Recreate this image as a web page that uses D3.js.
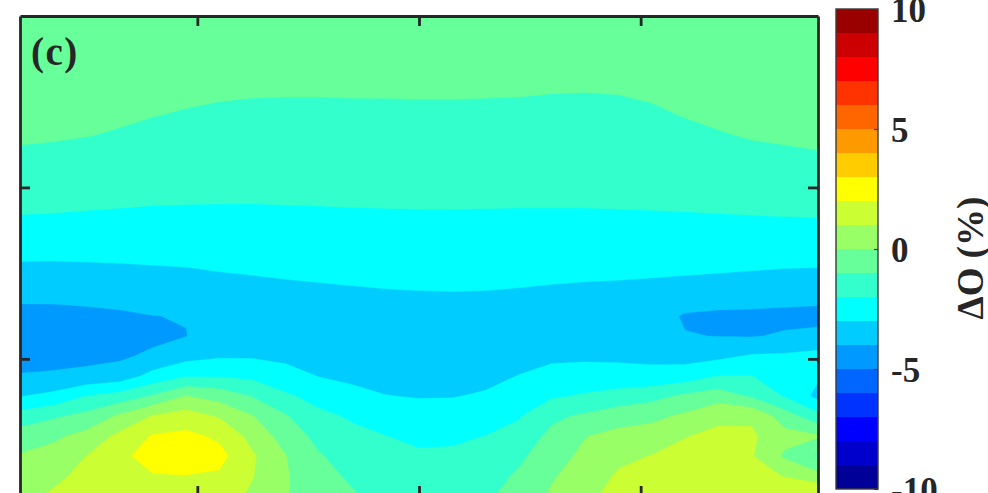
<!DOCTYPE html>
<html><head><meta charset="utf-8">
<script src="https://cdn.jsdelivr.net/npm/d3@7"></script>
<style>html,body{margin:0;padding:0;background:#fff;} svg{display:block;}</style>
</head><body>
<svg id="chart" width="988" height="493"></svg>
<script>
// ---- data ----
const lons = d3.range(-180, 181, 15);                 // 25 grid columns (deg)
const altTop = 400, altBottom = 120;                  // km
const alts = d3.range(0, 25).map(j => altTop - j * (altTop - altBottom) / 24); // 25 rows, top -> bottom
const levels = d3.range(-10, 11, 1);
const jetColors = ["#000099","#0000CC","#0000FF","#0033FF","#0066FF","#0099FF","#00CCFF","#00FFFF","#33FFCC","#66FF99",
                   "#99FF66","#CCFF33","#FFFF00","#FFCC00","#FF9900","#FF6600","#FF3300","#FF0000","#CC0000","#990000"];
const xTicks = [-100, 0, 100];
const yTicks = [200, 300];
const cbTicks = [-10, -5, 0, 5, 10];
const panelLabel = "(c)";
const cbLabel = "ΔO (%)";

// ΔO (%) by longitude column, each listed from 400 km (top) down to 120 km (bottom)
const dO = [
 [-0.35,-0.45,-0.55,-0.65,-0.75,-0.85,-0.95,-1.06,-1.42,-1.71,-2.02,-2.43,-2.87,-3.35,-3.85,-4.23,-4.57,-4.31,-3.95,-3.05,-1.57,-0.54,0.09,0.40,0.70],
 [-0.35,-0.45,-0.55,-0.66,-0.76,-0.86,-0.96,-1.10,-1.46,-1.75,-2.04,-2.46,-2.88,-3.35,-3.85,-4.22,-4.53,-4.26,-3.90,-2.73,-1.14,-0.18,0.33,0.75,1.15],
 [-0.35,-0.46,-0.56,-0.67,-0.78,-0.89,-0.99,-1.25,-1.52,-1.79,-2.08,-2.47,-2.86,-3.32,-3.80,-4.18,-4.48,-4.21,-3.80,-1.98,-0.71,0.30,1.01,1.31,1.60],
 [-0.35,-0.47,-0.58,-0.70,-0.81,-0.93,-1.05,-1.34,-1.59,-1.83,-2.11,-2.48,-2.85,-3.27,-3.73,-4.12,-4.43,-4.16,-3.55,-1.60,0.15,1.25,1.81,1.82,1.60],
 [-0.35,-0.48,-0.60,-0.73,-0.86,-0.99,-1.20,-1.42,-1.64,-1.87,-2.14,-2.48,-2.83,-3.20,-3.60,-4.01,-4.27,-3.80,-2.67,-0.90,1.06,2.08,2.34,1.95,1.50],
 [-0.35,-0.49,-0.63,-0.76,-0.90,-1.06,-1.27,-1.47,-1.68,-1.89,-2.15,-2.48,-2.80,-3.16,-3.57,-3.97,-4.02,-3.34,-2.09,0.02,1.43,2.23,2.38,1.98,1.50],
 [-0.35,-0.50,-0.65,-0.80,-0.95,-1.13,-1.32,-1.51,-1.71,-1.90,-2.15,-2.46,-2.77,-3.06,-3.28,-3.50,-3.43,-3.12,-2.08,-0.40,0.89,1.82,2.30,1.86,1.40],
 [-0.35,-0.51,-0.67,-0.83,-0.98,-1.17,-1.35,-1.54,-1.72,-1.91,-2.14,-2.43,-2.72,-3.01,-3.30,-3.59,-3.41,-3.11,-2.24,-1.06,0.03,0.66,1.12,1.03,0.85],
 [-0.35,-0.51,-0.67,-0.83,-0.99,-1.17,-1.35,-1.54,-1.72,-1.90,-2.12,-2.40,-2.67,-2.95,-3.25,-3.56,-3.52,-3.20,-2.68,-1.85,-0.93,-0.45,0.02,0.08,0.05],
 [-0.35,-0.51,-0.67,-0.83,-0.99,-1.17,-1.35,-1.53,-1.71,-1.89,-2.11,-2.37,-2.64,-2.91,-3.19,-3.48,-3.73,-3.38,-3.03,-2.36,-1.77,-1.30,-0.92,-0.68,-0.45],
 [-0.35,-0.51,-0.67,-0.83,-0.98,-1.16,-1.34,-1.52,-1.70,-1.88,-2.09,-2.35,-2.61,-2.87,-3.14,-3.42,-3.69,-3.50,-3.19,-2.75,-2.13,-1.76,-1.46,-1.16,-0.90],
 [-0.35,-0.51,-0.66,-0.82,-0.98,-1.15,-1.33,-1.51,-1.69,-1.87,-2.08,-2.33,-2.58,-2.84,-3.09,-3.36,-3.63,-3.59,-3.29,-2.98,-2.49,-1.99,-1.76,-1.53,-1.30],
 [-0.35,-0.50,-0.66,-0.81,-0.97,-1.15,-1.33,-1.51,-1.69,-1.87,-2.07,-2.32,-2.57,-2.81,-3.07,-3.35,-3.63,-3.60,-3.33,-3.05,-2.64,-2.18,-1.88,-1.69,-1.50],
 [-0.35,-0.50,-0.66,-0.81,-0.97,-1.15,-1.33,-1.51,-1.69,-1.87,-2.07,-2.32,-2.56,-2.80,-3.06,-3.34,-3.62,-3.60,-3.32,-3.04,-2.61,-2.16,-1.85,-1.63,-1.40],
 [-0.35,-0.51,-0.67,-0.83,-0.98,-1.16,-1.34,-1.52,-1.70,-1.88,-2.07,-2.32,-2.57,-2.81,-3.07,-3.36,-3.64,-3.48,-3.22,-2.91,-2.44,-1.99,-1.71,-1.43,-1.15],
 [-0.35,-0.51,-0.68,-0.84,-0.99,-1.18,-1.35,-1.53,-1.70,-1.88,-2.08,-2.33,-2.58,-2.84,-3.11,-3.43,-3.57,-3.28,-2.98,-2.55,-2.09,-1.64,-1.20,-0.86,-0.60],
 [-0.35,-0.52,-0.68,-0.85,-1.02,-1.19,-1.36,-1.53,-1.71,-1.88,-2.08,-2.35,-2.61,-2.88,-3.17,-3.47,-3.44,-3.16,-2.73,-2.12,-1.20,-0.74,-0.42,-0.10,0.15],
 [-0.35,-0.52,-0.69,-0.86,-1.03,-1.20,-1.37,-1.54,-1.71,-1.88,-2.08,-2.36,-2.64,-2.92,-3.20,-3.47,-3.44,-3.15,-2.64,-1.89,-0.84,-0.04,0.24,0.50,0.75],
 [-0.35,-0.51,-0.68,-0.84,-1.01,-1.18,-1.35,-1.53,-1.70,-1.87,-2.07,-2.36,-2.65,-2.94,-3.23,-3.52,-3.48,-3.18,-2.64,-1.63,-0.44,0.29,0.78,1.12,1.35],
 [-0.35,-0.50,-0.65,-0.79,-0.94,-1.11,-1.30,-1.48,-1.67,-1.85,-2.06,-2.36,-2.67,-2.97,-3.27,-3.57,-3.53,-3.23,-2.71,-1.33,-0.24,0.45,1.03,1.31,1.60],
 [-0.35,-0.47,-0.60,-0.73,-0.85,-0.98,-1.17,-1.39,-1.60,-1.82,-2.05,-2.37,-2.68,-3.01,-3.45,-4.10,-3.96,-3.34,-2.54,-0.80,0.16,0.96,1.24,1.50,1.75],
 [-0.35,-0.46,-0.57,-0.68,-0.79,-0.91,-1.04,-1.28,-1.53,-1.78,-2.03,-2.37,-2.70,-3.05,-3.54,-4.20,-4.02,-3.23,-1.98,-0.47,0.81,1.19,1.41,1.63,1.85],
 [-0.35,-0.45,-0.56,-0.66,-0.76,-0.87,-0.97,-1.12,-1.46,-1.73,-2.01,-2.36,-2.71,-3.10,-3.62,-4.20,-4.05,-2.91,-1.98,-1.13,0.82,1.16,1.08,1.38,1.80],
 [-0.35,-0.45,-0.55,-0.65,-0.75,-0.85,-0.95,-1.06,-1.41,-1.70,-1.99,-2.36,-2.74,-3.16,-3.68,-4.25,-3.90,-2.85,-2.46,-2.08,-0.50,0.31,-0.15,0.95,1.85],
 [-0.35,-0.45,-0.54,-0.64,-0.73,-0.83,-0.93,-1.03,-1.37,-1.67,-1.97,-2.35,-2.75,-3.18,-3.71,-4.30,-3.75,-2.70,-2.85,-3.30,-1.70,0.12,-1.13,0.30,2.30]
];

// ---- layout ----
const svg = d3.select("#chart");
const plot = {x0: 20, x1: 818, y0: 16, y1: 496};
const xScale = d3.scaleLinear().domain([-180, 180]).range([plot.x0, plot.x1]);
const yScale = d3.scaleLinear().domain([altBottom, altTop]).range([plot.y1, plot.y0]);

const nx = lons.length, ny = alts.length;
const values = new Array(nx * ny);
for (let j = 0; j < ny; j++) for (let i = 0; i < nx; i++) values[j * nx + i] = dO[i][j];

const gx = d3.scaleLinear().domain([0.5, nx - 0.5]).range([lons[0], lons[nx - 1]]);
const gy = d3.scaleLinear().domain([0.5, ny - 0.5]).range([alts[0], alts[ny - 1]]);

const proj = d3.geoTransform({
  point: function(x, y) { this.stream.point(xScale(gx(x)), yScale(gy(y))); }
});
const path = d3.geoPath(proj);

svg.append("defs").append("clipPath").attr("id", "clip")
  .append("rect").attr("x", plot.x0).attr("y", plot.y0)
  .attr("width", plot.x1 - plot.x0).attr("height", plot.y1 - plot.y0);

const contours = d3.contours().size([nx, ny]).thresholds(levels.slice(0, 20))(values);

svg.append("g").attr("clip-path", "url(#clip)")
  .selectAll("path").data(contours).join("path")
  .attr("d", path)
  .attr("fill", d => jetColors[Math.round(d.value) + 10])
  .attr("stroke", d => jetColors[Math.round(d.value) + 10])
  .attr("stroke-width", 0.4);

// ---- axes frame ----
const axColor = "#262626", axW = 2.8;
function styleAxis(g) {
  g.selectAll("path.domain").attr("stroke", axColor).attr("stroke-width", axW);
  g.selectAll(".tick line").attr("stroke", axColor).attr("stroke-width", axW);
  g.selectAll(".tick text").remove();
}
svg.append("g").attr("transform", `translate(0,${plot.y0})`)
  .call(d3.axisTop(xScale).tickValues(xTicks).tickSize(-10).tickSizeOuter(0)).call(styleAxis);
svg.append("g").attr("transform", `translate(0,${plot.y1})`)
  .call(d3.axisBottom(xScale).tickValues(xTicks).tickSize(-10).tickSizeOuter(0)).call(styleAxis);
svg.append("g").attr("transform", `translate(${plot.x0},0)`)
  .call(d3.axisLeft(yScale).tickValues(yTicks).tickSize(-10).tickSizeOuter(0)).call(styleAxis);
svg.append("g").attr("transform", `translate(${plot.x1},0)`)
  .call(d3.axisRight(yScale).tickValues(yTicks).tickSize(-10).tickSizeOuter(0)).call(styleAxis);

svg.append("text").attr("x", 31).attr("y", 65)
  .attr("font-family", "'Liberation Serif', 'Times New Roman', serif")
  .attr("font-weight", "bold").attr("font-size", 39).attr("letter-spacing", 1.5).attr("fill", "#262626")
  .text(panelLabel);

// ---- colorbar ----
const cb = {x: 836, w: 42, y0: 9, y1: 489};
const cbScale = d3.scaleLinear().domain([-10, 10]).range([cb.y1, cb.y0]);
svg.append("g").selectAll("rect").data(levels.slice(0, 20)).join("rect")
  .attr("x", cb.x).attr("width", cb.w)
  .attr("y", d => cbScale(d + 1)).attr("height", d => cbScale(d) - cbScale(d + 1))
  .attr("fill", d => jetColors[d + 10]);
svg.append("rect").attr("x", cb.x).attr("y", cb.y0).attr("width", cb.w).attr("height", cb.y1 - cb.y0)
  .attr("fill", "none").attr("stroke", "#3a3a3a").attr("stroke-width", 1.4);

const cbAxis = svg.append("g").attr("transform", `translate(${cb.x + cb.w},0)`)
  .call(d3.axisRight(cbScale).tickValues(cbTicks).tickSize(-4).tickSizeOuter(0).tickPadding(13).tickFormat(d => String(d)));
cbAxis.select("path.domain").remove();
cbAxis.selectAll(".tick line").attr("stroke", "#3a3a3a").attr("stroke-width", 1.2);
cbAxis.attr("font-family", null).attr("font-size", null);
cbAxis.selectAll(".tick text")
  .attr("font-family", "'Liberation Serif', 'Times New Roman', serif")
  .attr("font-weight", "bold").attr("font-size", 35).attr("fill", "#262626")
  .attr("dy", "0.37em");

svg.append("text")
  .attr("transform", "translate(983,258) rotate(-90)")
  .attr("text-anchor", "middle")
  .attr("font-family", "'Liberation Serif', 'Times New Roman', serif")
  .attr("font-weight", "bold").attr("font-size", 37).attr("fill", "#262626")
  .text(cbLabel);
</script>
</body></html>
